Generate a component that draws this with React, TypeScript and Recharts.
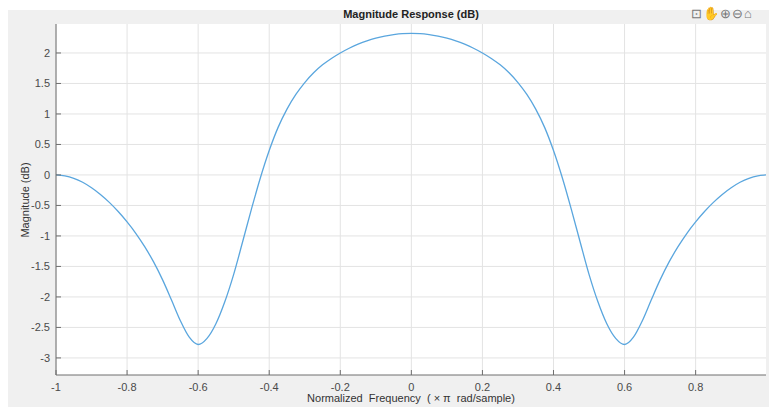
import React from 'react'
import { CartesianGrid, Line, LineChart, XAxis, YAxis } from 'recharts'

// normalized frequency (x pi rad/sample)
const freq = [
  -1, -0.975, -0.95, -0.925, -0.9, -0.875, -0.85, -0.825, -0.8, -0.775, -0.75, -0.725, -0.7, -0.675, -0.65, -0.625,
  -0.6, -0.575, -0.55, -0.525, -0.5, -0.475, -0.45, -0.425, -0.4, -0.375, -0.35, -0.325, -0.3, -0.275, -0.25, -0.225,
  -0.2, -0.175, -0.15, -0.125, -0.1, -0.075, -0.05, -0.025, 0,
  0.025, 0.05, 0.075, 0.1, 0.125, 0.15, 0.175, 0.2, 0.225, 0.25, 0.275, 0.3, 0.325, 0.35, 0.375, 0.4, 0.425, 0.45,
  0.475, 0.5, 0.525, 0.55, 0.575, 0.6, 0.625, 0.65, 0.675, 0.7, 0.725, 0.75, 0.775, 0.8, 0.825, 0.85, 0.875, 0.9,
  0.925, 0.95, 0.975, 0.998,
]
// magnitude in dB
const magDb = [
  0, -0.015, -0.055, -0.12, -0.21, -0.32, -0.45, -0.6, -0.77, -0.96, -1.18, -1.43, -1.72, -2.05, -2.39, -2.66,
  -2.78, -2.68, -2.44, -2.08, -1.63, -1.1, -0.56, -0.05, 0.4, 0.78, 1.08, 1.32, 1.515, 1.675, 1.805, 1.91,
  2.0, 2.078, 2.144, 2.199, 2.243, 2.277, 2.302, 2.317, 2.32,
  2.317, 2.302, 2.277, 2.243, 2.199, 2.144, 2.078, 2.0, 1.91, 1.805, 1.675, 1.515, 1.32, 1.08, 0.78, 0.4, -0.05, -0.56,
  -1.1, -1.63, -2.08, -2.44, -2.68, -2.78, -2.66, -2.39, -2.05, -1.72, -1.43, -1.18, -0.96, -0.77, -0.6, -0.45, -0.32, -0.21,
  -0.12, -0.055, -0.015, 0,
]
const xTicks = [-1, -0.8, -0.6, -0.4, -0.2, 0, 0.2, 0.4, 0.6, 0.8]
const yTicks = [-3, -2.5, -2, -1.5, -1, -0.5, 0, 0.5, 1, 1.5, 2]

const data = freq.map((f, i) => ({ f, mag: magDb[i] }))

const font = '"Liberation Sans", Arial, sans-serif'
const tickStyle = { fontSize: 11, fill: '#4a4a4a', fontFamily: font }
const axisColor = '#6e6e6e'

export default function App() {
  return (
    <div style={{ position: 'absolute', left: 0, top: 0, width: 769, height: 407, background: '#fff', overflow: 'hidden' }}>
      <div style={{ position: 'absolute', left: 8, top: 10, width: 761, height: 397, background: '#f0f0f0' }} />
      <div style={{ position: 'absolute', left: 0, top: 0 }}>
        <LineChart width={769} height={407} data={data} margin={{ top: 24, right: 3, bottom: 0, left: 0 }}>
          <CartesianGrid
            xAxisId="b"
            yAxisId="l"
            stroke="#e3e3e3"
            fill="#fff"
            fillOpacity={1}
            horizontalValues={yTicks}
            verticalValues={xTicks}
          />
          <XAxis
            xAxisId="b"
            dataKey="f"
            type="number"
            domain={[-1, 0.998]}
            ticks={xTicks}
            allowDataOverflow
            height={32}
            stroke={axisColor}
            tickSize={-5}
            tickMargin={13}
            tick={tickStyle}
          />
          <XAxis
            xAxisId="t"
            orientation="top"
            dataKey="f"
            type="number"
            domain={[-1, 0.998]}
            ticks={xTicks}
            allowDataOverflow
            height={0}
            stroke={axisColor}
            tickSize={-5}
            tickFormatter={() => ''}
          />
          <YAxis
            yAxisId="l"
            type="number"
            domain={[-3.28, 2.475]}
            ticks={yTicks}
            allowDataOverflow
            width={56}
            stroke={axisColor}
            tickSize={-5}
            tickMargin={11}
            tick={tickStyle}
          />
          <YAxis
            yAxisId="r"
            orientation="right"
            type="number"
            domain={[-3.28, 2.475]}
            ticks={yTicks}
            allowDataOverflow
            width={0}
            stroke={axisColor}
            tickSize={-5}
            tickFormatter={() => ''}
          />
          <Line
            xAxisId="b"
            yAxisId="l"
            dataKey="mag"
            type="monotone"
            stroke="#5aa6de"
            strokeWidth={1.3}
            dot={false}
            isAnimationActive={false}
          />
        </LineChart>
      </div>
      <div style={{ position: 'absolute', left: 261, width: 300, top: 8, textAlign: 'center', fontFamily: font, fontSize: 11, fontWeight: 'bold', color: '#222' }}>
        Magnitude Response (dB)
      </div>
      <div style={{ position: 'absolute', left: 691, top: 6, fontFamily: font, fontSize: 13, color: '#777', letterSpacing: 1 }}>
        ⊡✋⊕⊖⌂
      </div>
      <div style={{ position: 'absolute', left: 211, width: 400, top: 392, textAlign: 'center', fontFamily: font, fontSize: 11, color: '#333', whiteSpace: 'pre' }}>
        {'Normalized  Frequency  ( × π  rad/sample)'}
      </div>
      <div style={{ position: 'absolute', left: 25, top: 200, width: 0, height: 0 }}>
        <div style={{ position: 'absolute', transform: 'translate(-50%, -50%) rotate(-90deg)', fontFamily: font, fontSize: 11, color: '#333', whiteSpace: 'nowrap' }}>
          Magnitude (dB)
        </div>
      </div>
    </div>
  )
}
